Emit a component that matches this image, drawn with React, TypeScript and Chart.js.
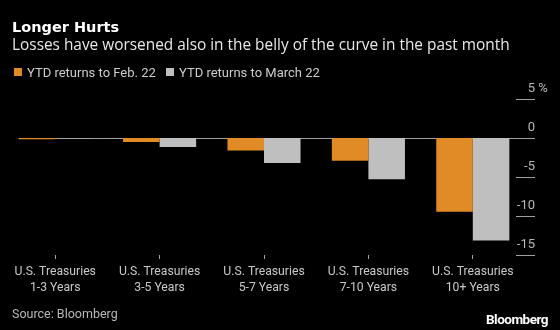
import React, { useEffect, useRef } from "react";
import { Chart, registerables } from "chart.js";

Chart.register(...registerables);

const categories: string[][] = [
  ["U.S. Treasuries", "1-3 Years"],
  ["U.S. Treasuries", "3-5 Years"],
  ["U.S. Treasuries", "5-7 Years"],
  ["U.S. Treasuries", "7-10 Years"],
  ["U.S. Treasuries", "10+ Years"],
];
const febReturns = [-0.15, -0.52, -1.6, -2.92, -9.45];
const marchReturns = [-0.03, -1.15, -3.22, -5.28, -13.14];
const yTicks = [5, 0, -5, -10, -15];
const seriesNames = ["YTD returns to Feb. 22", "YTD returns to March 22"];

const ORANGE = "#E08B26";
const GRAY = "#BFBFBF";
const FONT = "Roboto, 'Noto Sans', sans-serif";

const axisPlugin = {
  id: "bbgAxis",
  beforeDatasetsDraw(chart: any) {
    const ctx = chart.ctx;
    const y = chart.scales.y;
    const meta = chart.getDatasetMeta(0);
    const first = meta.data[0];
    const left = first.x - first.width / 2;
    const right = chart.chartArea.right + 10;
    const z = Math.round(y.getPixelForValue(0)) + 0.5;
    ctx.save();
    ctx.strokeStyle = "#a0a0a0";
    ctx.lineWidth = 1;
    ctx.beginPath();
    ctx.moveTo(left, z);
    ctx.lineTo(right, z);
    ctx.stroke();
    ctx.restore();
  },
  afterDraw(chart: any) {
    const ctx = chart.ctx;
    const y = chart.scales.y;
    const right = chart.chartArea.right + 10;
    ctx.save();
    ctx.font = `13px ${FONT}`;
    ctx.fillStyle = "#b8b8b8";
    ctx.strokeStyle = "#a0a0a0";
    ctx.lineWidth = 1;
    yTicks.forEach((v) => {
      const p = Math.round(y.getPixelForValue(v)) + 0.5;
      if (v !== 0) {
        ctx.beginPath();
        ctx.moveTo(right - 19, p);
        ctx.lineTo(right, p);
        ctx.stroke();
      }
      ctx.textAlign = "right";
      ctx.textBaseline = "alphabetic";
      ctx.fillText(String(v), right, p - 8);
      if (v === yTicks[0]) {
        ctx.textAlign = "left";
        ctx.fillText(" %", right, p - 8);
      }
    });
    ctx.restore();
  },
};

export default function App() {
  const ref = useRef<HTMLCanvasElement>(null);
  useEffect(() => {
    const chart = new Chart(ref.current!, {
      type: "bar",
      data: {
        labels: categories,
        datasets: [
          { label: seriesNames[0], data: febReturns, backgroundColor: ORANGE },
          { label: seriesNames[1], data: marchReturns, backgroundColor: GRAY },
        ],
      },
      options: {
        responsive: false,
        animation: false,
        events: [],
        layout: { padding: { left: 3, right: 35, top: 99, bottom: 0 } },
        plugins: { legend: { display: false }, tooltip: { enabled: false } },
        datasets: { bar: { categoryPercentage: 0.7, barPercentage: 1 } },
        scales: {
          x: {
            afterFit: (s: any) => {
              s.height = 75;
            },
            border: { display: false },
            grid: {
              display: true,
              drawOnChartArea: false,
              offset: false,
              tickLength: 4,
              color: "#a0a0a0",
            },
            ticks: {
              color: "#c8c8c8",
              font: { family: FONT, size: 12.2, lineHeight: 1.29 },
              padding: 5,
              maxRotation: 0,
              autoSkip: false,
            },
          },
          y: {
            display: false,
            min: -15,
            max: 5,
          },
        },
      },
      plugins: [axisPlugin],
    });
    return () => chart.destroy();
  }, []);

  const sq = (left: number, c: string): React.CSSProperties => ({
    position: "absolute",
    left,
    top: 68,
    width: 8,
    height: 8,
    background: c,
  });
  const lg = (left: number): React.CSSProperties => ({
    position: "absolute",
    left,
    top: 64.5,
    color: "#cccccc",
    fontSize: 13,
    whiteSpace: "nowrap",
  });

  return (
    <div
      style={{
        position: "fixed",
        top: 0,
        left: 0,
        width: 560,
        height: 330,
        background: "#000",
        fontFamily: FONT,
        overflow: "hidden",
        lineHeight: "normal",
      }}
    >
      <canvas ref={ref} width={560} height={330} style={{ position: "absolute", left: 0, top: 0 }} />
      <div
        style={{
          position: "absolute",
          left: 12,
          top: 18.8,
          color: "#fff",
          fontWeight: 700,
          fontSize: 14.5,
          fontFamily: "'DejaVu Sans', sans-serif",
          whiteSpace: "nowrap",
        }}
      >
        Longer Hurts
      </div>
      <div
        style={{
          position: "absolute",
          left: 12,
          top: 33.5,
          color: "#e8e8e8",
          fontSize: 15.4,
          fontFamily: "'Open Sans', sans-serif",
          whiteSpace: "nowrap",
        }}
      >
        Losses have worsened also in the belly of the curve in the past month
      </div>
      <span style={sq(14, ORANGE)} />
      <span style={lg(27)}>{seriesNames[0]}</span>
      <span style={sq(166, GRAY)} />
      <span style={lg(179)}>{seriesNames[1]}</span>
      <div style={{ position: "absolute", left: 12, top: 306, color: "#b8b8b8", fontSize: 12.5, whiteSpace: "nowrap" }}>
        Source: Bloomberg
      </div>
      <div
        style={{
          position: "absolute",
          right: 12,
          top: 311,
          color: "#fff",
          fontSize: 13.5,
          fontWeight: 700,
          letterSpacing: -0.5,
          whiteSpace: "nowrap",
        }}
      >
        Bloomberg
      </div>
    </div>
  );
}
